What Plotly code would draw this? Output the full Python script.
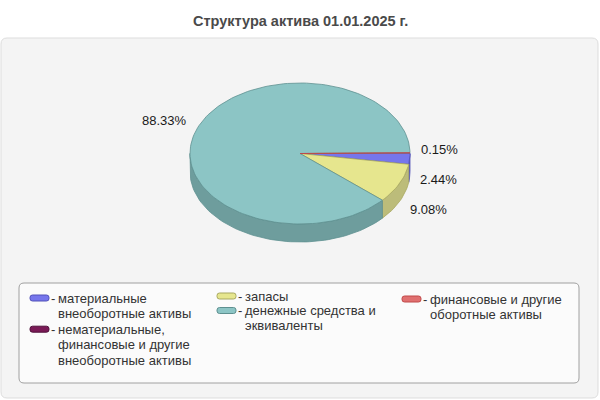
import textwrap
import numpy as np
import plotly.graph_objects as go

# data
title = "Структура актива 01.01.2025 г."
categories = [
    "материальные внеоборотные активы",
    "нематериальные, финансовые и другие внеоборотные активы",
    "запасы",
    "денежные средства и эквиваленты",
    "финансовые и другие оборотные активы",
]
shares = [2.44, 0.0, 9.08, 88.33, 0.15]

top_colors = ["#7676ec", "#7a1a56", "#e6e68e", "#8cc5c5", "#e07070"]
side_colors = ["#5454cc", "#5c1040", "#bcbc7a", "#6e9d9d", "#b05050"]
edge_colors = ["#5050b8", "#50103a", "#a8a860", "#5e9090", "#c04848"]
legend_cols = [0, 0, 1, 1, 2]

# pie geometry in pixels (axes are mapped 1:1 to the 600x400 page)
CX, CY, RX, RY, DEPTH = 300, 153.5, 110, 70.5, 18


def arc(a1, a2, dy=0.0):
    n = max(2, int(abs(a2 - a1) / 2) + 2)
    t = np.radians(np.linspace(a1, a2, n))
    return CX + RX * np.cos(t), CY + RY * np.sin(t) + dy


def rrect(x0, y0, x1, y1, r):
    return (f"M{x0+r},{y0} L{x1-r},{y0} Q{x1},{y0} {x1},{y0+r} "
            f"L{x1},{y1-r} Q{x1},{y1} {x1-r},{y1} L{x0+r},{y1} "
            f"Q{x0},{y1} {x0},{y1-r} L{x0},{y0+r} Q{x0},{y0} {x0+r},{y0} Z")


total = sum(shares)
ends = np.cumsum(shares) / total * 360
starts = ends - np.array(shares) / total * 360

fig = go.Figure()

# side walls (front half only)
for i, v in enumerate(shares):
    if v <= 0:
        continue
    a1, a2 = max(starts[i], 0), min(ends[i], 180)
    if a2 <= a1:
        continue
    xt, yt = arc(a1, a2)
    xb, yb = arc(a2, a1, DEPTH)
    fig.add_trace(go.Scatter(
        x=np.concatenate([xt, xb, xt[:1]]), y=np.concatenate([yt, yb, yt[:1]]),
        fill="toself", fillcolor=side_colors[i], mode="lines",
        line=dict(color=edge_colors[i], width=0.8), hoverinfo="skip",
        showlegend=False))

# top faces
for i, v in enumerate(shares):
    if v <= 0:
        continue
    xa, ya = arc(starts[i], ends[i])
    fig.add_trace(go.Scatter(
        x=np.concatenate([[CX], xa, [CX]]), y=np.concatenate([[CY], ya, [CY]]),
        fill="toself", fillcolor=top_colors[i], mode="lines",
        line=dict(color=edge_colors[i], width=0.8),
        name=categories[i], text=f"{v:.2f}%", hoverinfo="name+text",
        showlegend=False))

# percentage labels
labels = []
for i, v in enumerate(shares):
    if v <= 0:
        continue
    m = np.radians((starts[i] + ends[i]) / 2)
    c, s = np.cos(m), np.sin(m)
    lx = CX + 1.08 * RX * c
    ly = CY + 1.3 * RY * s + (DEPTH if s > 0 else 0)
    labels.append([lx, ly, c >= 0, f"{v:.2f}%"])

# spread labels that sit too close on the same side
for side in (True, False):
    grp = sorted([l for l in labels if l[2] == side], key=lambda l: l[1])
    for _ in range(50):
        for a, b in zip(grp, grp[1:]):
            gap = b[1] - a[1]
            if gap < 30:
                a[1] -= (30 - gap) / 2
                b[1] += (30 - gap) / 2

annotations = []
for lx, ly, right, txt in labels:
    annotations.append(dict(
        x=lx, y=ly - 1, xref="x", yref="y", text=txt, showarrow=False,
        xanchor="left" if right else "right", yanchor="middle",
        font=dict(size=13, color="#1a1a1a")))

shapes = [
    dict(type="path", path=rrect(1, 38, 598, 398, 6), xref="x", yref="y",
         fillcolor="#f4f4f4", line=dict(color="#dddddd", width=1), layer="below"),
    dict(type="path", path=rrect(19, 283, 579, 383, 5), xref="x", yref="y",
         fillcolor="#fbfbfb", line=dict(color="#a0a0a0", width=1), layer="below"),
]

# legend built from shapes and text
col_left = [30, 217, 402]
col_step = [15.6, 14.5, 15.6]
col_y = [298, 296, 299]
for i, name in enumerate(categories):
    c = legend_cols[i]
    x0, y0 = col_left[c], col_y[c]
    shapes.append(dict(type="path", path=rrect(x0, y0 - 3, x0 + 19, y0 + 3, 2.5),
                       xref="x", yref="y", fillcolor=top_colors[i],
                       line=dict(color=edge_colors[i], width=1)))
    annotations.append(dict(x=x0 + 19, y=y0, xref="x", yref="y", text="-",
                            showarrow=False, xanchor="left", yanchor="middle",
                            font=dict(size=13, color="#333333")))
    lines = textwrap.wrap(name, 20)
    for k, ln in enumerate(lines):
        annotations.append(dict(x=x0 + 26, y=y0 + k * col_step[c], xref="x", yref="y",
                                text=ln, showarrow=False, xanchor="left",
                                yanchor="middle",
                                font=dict(size=13, color="#333333")))
    col_y[c] = y0 + len(lines) * col_step[c]

annotations.append(dict(x=300, y=21, xref="x", yref="y", text=f"<b>{title}</b>",
                        showarrow=False, xanchor="center", yanchor="middle",
                        font=dict(size=14.5, color="#4a4a4a")))

fig.update_layout(
    width=600, height=400, margin=dict(l=0, r=0, t=0, b=0),
    paper_bgcolor="white", plot_bgcolor="rgba(0,0,0,0)",
    font=dict(family="Liberation Sans, Arial, sans-serif"),
    xaxis=dict(range=[0, 600], visible=False, fixedrange=True),
    yaxis=dict(range=[400, 0], visible=False, fixedrange=True),
    shapes=shapes, annotations=annotations, showlegend=False,
)

# the page body has a default margin; drop it so the chart fills the window
fig.write_html("out.html", config={"displayModeBar": False},
               post_script="document.body.style.margin='0';")
